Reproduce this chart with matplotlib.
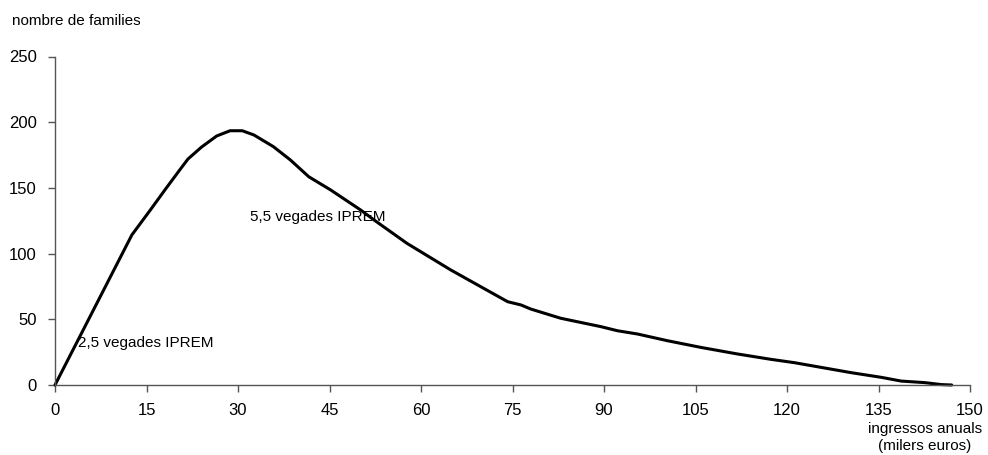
import matplotlib
matplotlib.use("Agg")
import matplotlib.pyplot as plt

income = [0, 12.6, 15.6, 18.1, 20.5, 21.8, 24.0, 26.5, 28.7,
          30.7, 32.6, 35.8, 38.6, 41.6, 45.2, 50.1, 52.3, 57.7, 64.9, 69.8, 74.2,
          76.4, 78.0, 82.9, 89.5, 92.2, 95.5, 100.4, 105.9, 111.9, 117.4,
          121.2, 130.5, 135.5, 138.7, 142.6, 145.3, 147.0]
families = [0, 114.2, 133.0, 149.0, 164.0, 172, 181, 189.5, 193.5,
            193.5, 190.3, 181.4, 171.2, 158.5, 148.4, 133.2, 125.6, 107.8, 87.5, 74.8, 63.4,
            60.9, 57.8, 50.8, 44.4, 41.3, 38.8, 33.7, 28.6, 23.6, 19.5,
            17, 9.4, 5.8, 3, 1.8, 0.3, 0]

xticks = [0, 15, 30, 45, 60, 75, 90, 105, 120, 135, 150]
yticks = [0, 50, 100, 150, 200, 250]

plt.rcParams['font.family'] = ['Liberation Sans', 'DejaVu Sans']

fig = plt.figure(figsize=(9.88, 4.55), dpi=100)
ax = fig.add_axes([55/988, 70/455, 915/988, 328.5/455])

ax.plot(income, families, color='black', lw=2.2, clip_on=False,
        solid_joinstyle='round', solid_capstyle='round')

ax.set_xlim(0, 150)
ax.set_ylim(0, 250)
ax.set_xticks(xticks)
ax.set_yticks(yticks)
ax.tick_params(labelsize=12, length=5, width=1, color='#555555', direction='out', pad=8)
for s in ['top', 'right']:
    ax.spines[s].set_visible(False)
for s in ['left', 'bottom']:
    ax.spines[s].set_color('#555555')
    ax.spines[s].set_linewidth(1)

ax.text(3.8, 32, '2,5 vegades IPREM', fontsize=11, va='center', ha='left')
ax.text(31.9, 128, '5,5 vegades IPREM', fontsize=11, va='center', ha='left')

fig.text(12/988, 1 - 21/455, 'nombre de families', fontsize=11, va='center', ha='left')
fig.text(925/988, 1 - 429/455, 'ingressos anuals', fontsize=11, va='center', ha='center')
fig.text(925/988, 1 - 446/455, '(milers euros)', fontsize=11, va='center', ha='center')

fig.savefig('out.png', dpi=100)
